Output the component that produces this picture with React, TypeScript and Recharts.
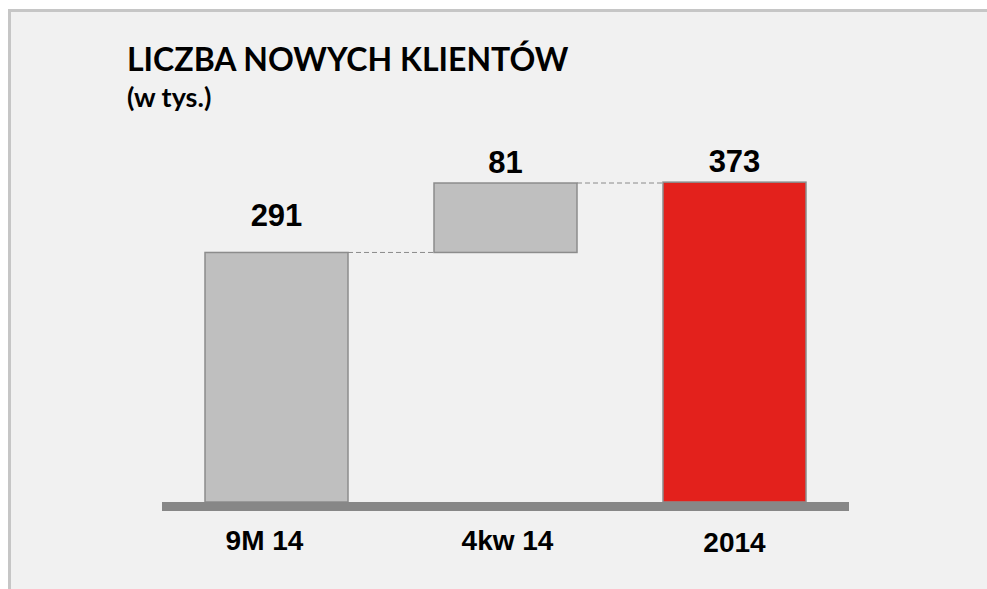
import React from 'react';
import { BarChart, Bar, XAxis, YAxis, LabelList, ReferenceLine } from 'recharts';

const categories = ['9M 14', '4kw 14', '2014'];
const values = [291, 81, 373];
const bases = [0, 291, 0];
const fills = ['#bfbfbf', '#bfbfbf', '#e3211c'];

const title = 'LICZBA NOWYCH KLIENTÓW';
const subtitle = '(w tys.)';

const data = categories.map((name, i) => ({
  name,
  base: bases[i],
  value: values[i],
}));

const BAR_SIZE = 143;
const CONNECTOR = 86; // gap between neighbouring bars
const labelGap = [26, 10, 10];
const tickDx = [-12, 2, 0];
const tickDy = [48, 48, 50];
const numFont = '"Liberation Sans", Arial, sans-serif';

const StepBar = (props: any) => {
  const { x, y, width, height, index } = props;
  return (
    <g>
      <rect x={x} y={y} width={width} height={height} fill={fills[index]} stroke="#8c8c8c" strokeWidth={1.5} />
      {index < categories.length - 1 && (
        <line
          x1={x + width}
          y1={y}
          x2={x + width + CONNECTOR}
          y2={y}
          stroke="#8a8a8a"
          strokeWidth={1}
          strokeDasharray="5 3"
        />
      )}
    </g>
  );
};

const ValueLabel = (props: any) => {
  const { x, y, width, value, index } = props;
  return (
    <text
      x={x + width / 2}
      y={y - labelGap[index]}
      textAnchor="middle"
      fontFamily={numFont}
      fontWeight="bold"
      fontSize={31}
      fill="#000"
    >
      {value}
    </text>
  );
};

const CategoryTick = (props: any) => {
  const { x, y, payload, index } = props;
  return (
    <text
      x={x + tickDx[index]}
      y={y + tickDy[index]}
      textAnchor="middle"
      fontFamily={numFont}
      fontWeight="bold"
      fontSize={28}
      fill="#000"
    >
      {payload.value}
    </text>
  );
};

const Baseline = (props: any) => {
  const { x1, y1, x2 } = props;
  return <rect x={x1} y={y1} width={x2 - x1} height={9} fill="#878787" />;
};

export default function App() {
  return (
    <div
      style={{
        position: 'fixed',
        left: 8,
        top: 9,
        width: 1000,
        height: 600,
        boxSizing: 'border-box',
        borderTop: '3px solid #c6c6c6',
        borderLeft: '3px solid #c6c6c6',
        background: '#f1f1f1',
        overflow: 'hidden',
      }}
    >
      <svg width={976} height={577} style={{ position: 'absolute', left: 0, top: 0 }}>
        <text x={116} y={59} fontFamily="Lato, sans-serif" fontWeight="bold" fontSize={32} fill="#000">
          {title}
        </text>
        <text x={116} y={95} fontFamily="Lato, sans-serif" fontWeight="bold" fontSize={27} fill="#000">
          {subtitle}
        </text>
      </svg>
      <div style={{ position: 'absolute', left: 0, top: 0 }}>
        <BarChart
          width={976}
          height={577}
          data={data}
          margin={{ top: 147, right: 138, left: 151, bottom: 27 }}
          barSize={BAR_SIZE}
        >
          <XAxis
            dataKey="name"
            axisLine={false}
            tickLine={false}
            tickSize={0}
            tickMargin={0}
            height={60}
            tick={<CategoryTick />}
            interval={0}
          />
          <YAxis hide domain={[0, 400]} />
          <Bar dataKey="base" stackId="w" fill="transparent" isAnimationActive={false} />
          <Bar dataKey="value" stackId="w" shape={<StepBar />} isAnimationActive={false}>
            <LabelList dataKey="value" content={<ValueLabel />} />
          </Bar>
          <ReferenceLine y={0} shape={<Baseline />} />
        </BarChart>
      </div>
    </div>
  );
}
